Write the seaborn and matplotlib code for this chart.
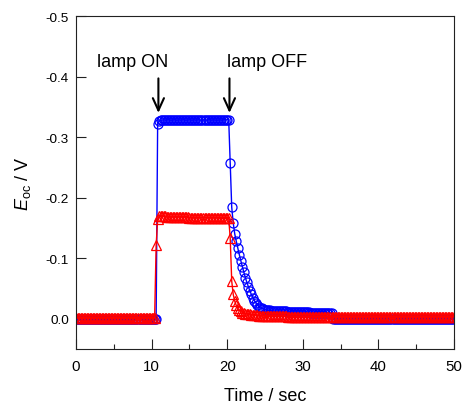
import numpy as np
import pandas as pd
import matplotlib
matplotlib.use("Agg")
import matplotlib.pyplot as plt
import seaborn as sns

# Open-circuit potential sampled every 0.2 s from 0 to 50 s
time_s = np.round(np.arange(251) * 0.2, 1)

eoc_blue = [
    0.001, 0.001, 0.001, 0.001, 0.001, 0.001, 0.001, 0.001, 0.001, 0.001,
    0.001, 0.001, 0.001, 0.001, 0.001, 0.001, 0.001, 0.001, 0.001, 0.001,
    0.001, 0.001, 0.001, 0.001, 0.001, 0.001, 0.001, 0.001, 0.001, 0.001,
    0.001, 0.001, 0.001, 0.001, 0.001, 0.001, 0.001, 0.001, 0.001, 0.001,
    0.001, 0.001, 0.001, 0.001, 0.001, 0.001, 0.001, 0.001, 0.001, 0.001,
    0.001, 0.001, 0.001, 0.001, -0.322, -0.326, -0.328, -0.328, -0.329, -0.328,
    -0.328, -0.329, -0.328, -0.328, -0.328, -0.329, -0.328, -0.328, -0.329, -0.328,
    -0.328, -0.329, -0.328, -0.328, -0.328, -0.329, -0.328, -0.328, -0.329, -0.328,
    -0.328, -0.329, -0.328, -0.328, -0.328, -0.329, -0.328, -0.328, -0.329, -0.328,
    -0.328, -0.329, -0.328, -0.328, -0.328, -0.329, -0.328, -0.328, -0.329, -0.328,
    -0.329, -0.329, -0.257, -0.184, -0.158, -0.140, -0.128, -0.117, -0.106, -0.096,
    -0.086, -0.077, -0.068, -0.060, -0.053, -0.046, -0.040, -0.035, -0.030, -0.026,
    -0.023, -0.020, -0.018, -0.017, -0.016, -0.015, -0.015, -0.014, -0.014, -0.013,
    -0.013, -0.012, -0.012, -0.012, -0.012, -0.012, -0.012, -0.012, -0.012, -0.012,
    -0.011, -0.011, -0.011, -0.011, -0.011, -0.011, -0.011, -0.011, -0.011, -0.011,
    -0.011, -0.011, -0.011, -0.011, -0.011, -0.010, -0.010, -0.010, -0.010, -0.010,
    -0.010, -0.010, -0.010, -0.010, -0.010, -0.010, -0.010, -0.010, -0.010, -0.010,
    0.001, 0.001, 0.001, 0.001, 0.001, 0.001, 0.001, 0.001, 0.001, 0.001,
    0.001, 0.001, 0.001, 0.001, 0.001, 0.001, 0.001, 0.001, 0.001, 0.001,
    0.001, 0.001, 0.001, 0.001, 0.001, 0.001, 0.001, 0.001, 0.001, 0.001,
    0.001, 0.001, 0.001, 0.001, 0.001, 0.001, 0.001, 0.001, 0.001, 0.001,
    0.001, 0.001, 0.001, 0.001, 0.001, 0.001, 0.001, 0.001, 0.001, 0.001,
    0.001, 0.001, 0.001, 0.001, 0.001, 0.001, 0.001, 0.001, 0.001, 0.001,
    0.001, 0.001, 0.001, 0.001, 0.001, 0.001, 0.001, 0.001, 0.001, 0.001,
    0.001, 0.001, 0.001, 0.001, 0.001, 0.001, 0.001, 0.001, 0.001, 0.001,
    0.001,
]

eoc_red = [
    -0.001, -0.001, -0.001, -0.001, -0.001, -0.001, -0.001, -0.001, -0.001, -0.001,
    -0.001, -0.001, -0.001, -0.001, -0.001, -0.001, -0.001, -0.001, -0.001, -0.001,
    -0.001, -0.001, -0.001, -0.001, -0.001, -0.001, -0.001, -0.001, -0.001, -0.001,
    -0.001, -0.001, -0.001, -0.001, -0.001, -0.001, -0.001, -0.001, -0.001, -0.001,
    -0.001, -0.001, -0.001, -0.001, -0.001, -0.001, -0.001, -0.001, -0.001, -0.001,
    -0.001, -0.001, -0.001, -0.121, -0.164, -0.169, -0.169, -0.169, -0.169, -0.169,
    -0.168, -0.168, -0.168, -0.168, -0.168, -0.168, -0.168, -0.168, -0.168, -0.168,
    -0.168, -0.168, -0.168, -0.168, -0.168, -0.167, -0.167, -0.167, -0.167, -0.167,
    -0.167, -0.167, -0.167, -0.167, -0.167, -0.167, -0.167, -0.167, -0.167, -0.167,
    -0.167, -0.167, -0.167, -0.167, -0.167, -0.166, -0.166, -0.166, -0.166, -0.166,
    -0.166, -0.166, -0.133, -0.062, -0.040, -0.029, -0.022, -0.017, -0.014, -0.012,
    -0.010, -0.009, -0.008, -0.008, -0.007, -0.007, -0.006, -0.006, -0.006, -0.006,
    -0.006, -0.005, -0.005, -0.005, -0.005, -0.004, -0.004, -0.004, -0.004, -0.004,
    -0.004, -0.004, -0.004, -0.004, -0.004, -0.004, -0.004, -0.004, -0.004, -0.004,
    -0.003, -0.003, -0.003, -0.003, -0.003, -0.003, -0.003, -0.003, -0.003, -0.003,
    -0.003, -0.003, -0.003, -0.003, -0.003, -0.003, -0.003, -0.003, -0.003, -0.003,
    -0.003, -0.003, -0.003, -0.003, -0.003, -0.003, -0.003, -0.003, -0.003, -0.003,
    -0.003, -0.003, -0.003, -0.003, -0.003, -0.003, -0.003, -0.003, -0.003, -0.003,
    -0.003, -0.003, -0.003, -0.003, -0.003, -0.003, -0.003, -0.003, -0.003, -0.003,
    -0.003, -0.003, -0.003, -0.003, -0.003, -0.003, -0.003, -0.003, -0.003, -0.003,
    -0.003, -0.003, -0.003, -0.003, -0.003, -0.003, -0.003, -0.003, -0.003, -0.003,
    -0.003, -0.003, -0.003, -0.003, -0.003, -0.003, -0.003, -0.003, -0.003, -0.003,
    -0.003, -0.003, -0.003, -0.003, -0.003, -0.003, -0.003, -0.003, -0.003, -0.003,
    -0.003, -0.003, -0.003, -0.003, -0.003, -0.003, -0.003, -0.003, -0.003, -0.003,
    -0.003, -0.003, -0.003, -0.003, -0.003, -0.003, -0.003, -0.003, -0.003, -0.003,
    -0.003,
]

x_ticks = [0, 10, 20, 30, 40, 50]
x_minor_ticks = [5, 15, 25, 35, 45]
y_ticks = [-0.5, -0.4, -0.3, -0.2, -0.1, 0.0]
y_tick_labels = ["-0.5", "-0.4", "-0.3", "-0.2", "-0.1", "0.0"]

# Light switching events: (label, switch time, label x, label y, arrow tail y, arrow tip y)
events = [
    ("lamp ON", 10.9, 7.5, -0.425, -0.397, -0.340),
    ("lamp OFF", 20.3, 25.3, -0.425, -0.397, -0.340),
]

sns.set_theme(style="ticks")
plt.rcParams["font.family"] = ["Liberation Sans", "DejaVu Sans"]
plt.rcParams["axes.unicode_minus"] = False
plt.rcParams["mathtext.fontset"] = "custom"
plt.rcParams["mathtext.rm"] = "Liberation Sans"
plt.rcParams["mathtext.it"] = "Liberation Sans:italic"
plt.rcParams["text.color"] = "black"
plt.rcParams["axes.labelcolor"] = "black"
plt.rcParams["xtick.color"] = "black"
plt.rcParams["ytick.color"] = "black"

df = pd.DataFrame({"time": time_s, "blue": eoc_blue, "red": eoc_red})

fig, ax = plt.subplots(figsize=(4.64, 4.06), dpi=100)
fig.subplots_adjust(left=0.1638, right=0.9784, top=0.958, bottom=0.138)

sns.lineplot(data=df, x="time", y="blue", ax=ax, color="#0000ff", lw=1.0,
             marker="o", markersize=6.5, estimator=None, sort=False)
line_b = ax.lines[-1]
line_b.set_markerfacecolor("none")
line_b.set_markeredgecolor("#0000ff")
line_b.set_markeredgewidth(0.9)

sns.lineplot(data=df, x="time", y="red", ax=ax, color="#ff0000", lw=1.0,
             marker="^", markersize=6.5, estimator=None, sort=False)
line_r = ax.lines[-1]
line_r.set_markerfacecolor("none")
line_r.set_markeredgecolor("#ff0000")
line_r.set_markeredgewidth(0.9)

for label, t_sw, tx, ty, y_tail, y_tip in events:
    ax.text(tx, ty, label, ha="center", va="center", fontsize=13, color="black")
    ax.annotate("", xy=(t_sw, y_tip), xytext=(t_sw, y_tail),
                arrowprops=dict(arrowstyle="->,head_length=0.55,head_width=0.25",
                                mutation_scale=16, lw=1.5, color="black",
                                shrinkA=0, shrinkB=0))

ax.set_xlim(0, 50)
ax.set_ylim(0.05, -0.5)
ax.set_xticks(x_ticks)
ax.set_xticks(x_minor_ticks, minor=True)
ax.set_xticklabels([str(v) for v in x_ticks])
ax.set_yticks(y_ticks)
ax.set_yticklabels(y_tick_labels)

ax.tick_params(axis="both", which="major", direction="in", length=7, width=0.8,
               color="#222222", labelcolor="black", top=False, right=False)
ax.tick_params(axis="x", which="minor", direction="in", length=3.6, width=0.8,
               color="#222222", top=False)
ax.tick_params(axis="x", labelsize=10.8, pad=7)
ax.tick_params(axis="y", labelsize=9.7, pad=5)

for side in ["top", "right", "bottom", "left"]:
    ax.spines[side].set_visible(True)
    ax.spines[side].set_color("#222222")
    ax.spines[side].set_linewidth(0.8)

ax.set_xlabel("Time / sec", fontsize=13, labelpad=10, color="black")
ax.set_ylabel(r"$E_{\mathrm{oc}}$ / V", fontsize=13, labelpad=9, color="black")

fig.savefig("out.png", dpi=100)
